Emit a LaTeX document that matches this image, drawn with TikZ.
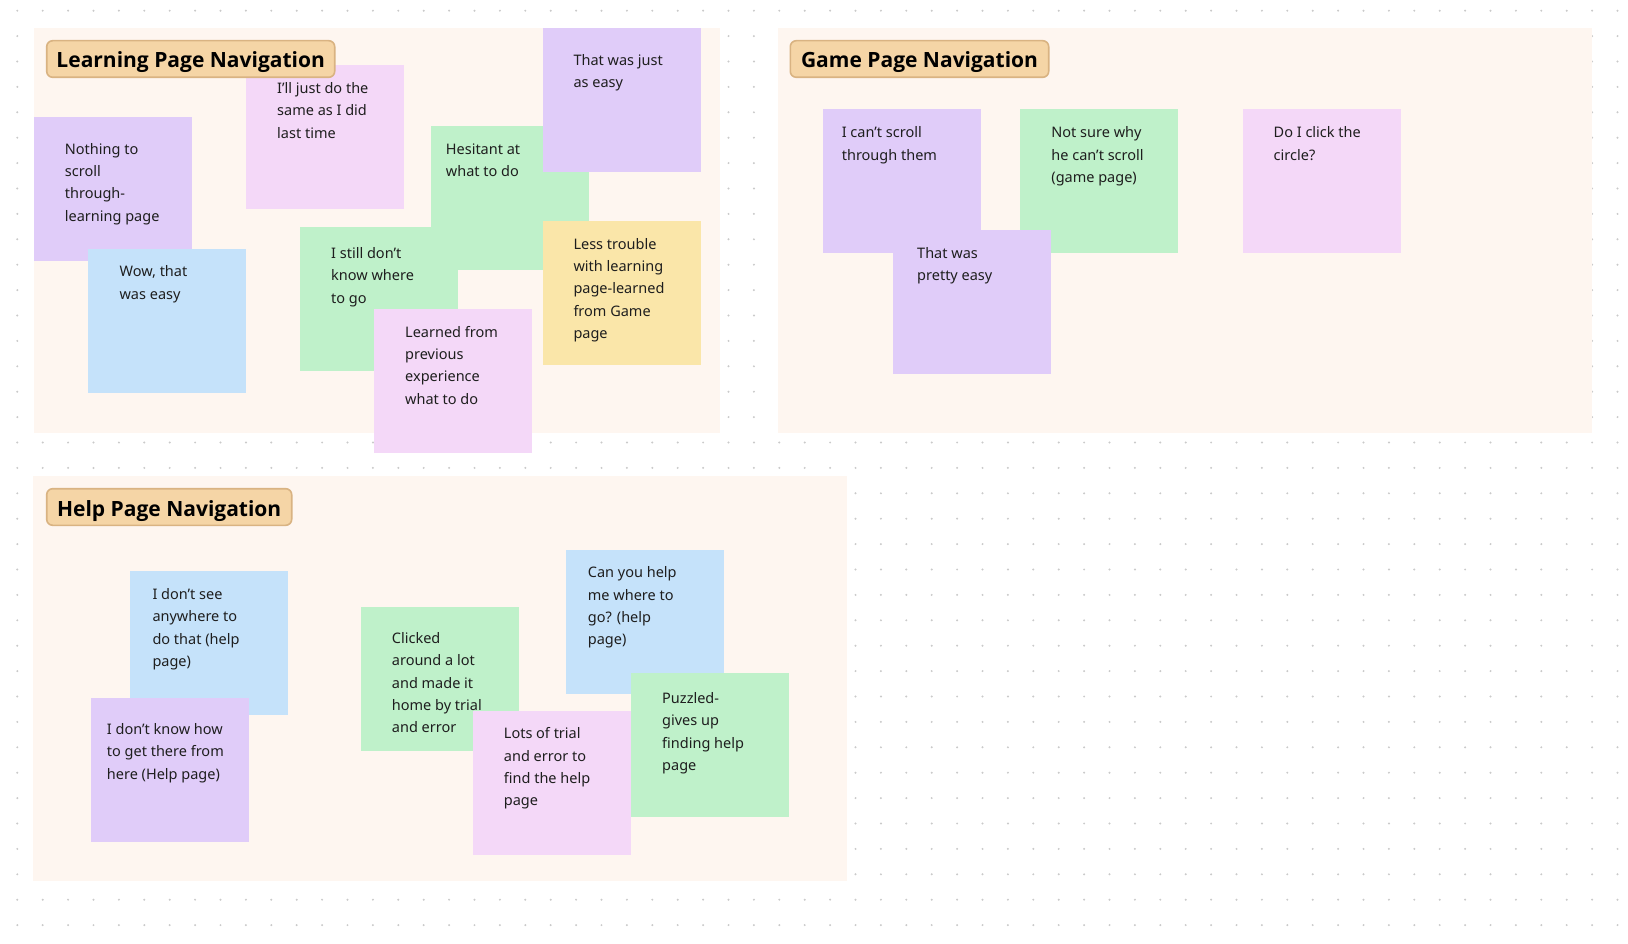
\documentclass[tikz,border=0pt]{standalone}
\usepackage{fontspec}
\setmainfont{Noto Sans}
\newfontfamily\titlefont{Open Sans}
\definecolor{framec}{HTML}{FEF6F0}
\definecolor{cpurple}{HTML}{E0CCF9}
\definecolor{cpink}{HTML}{F4D8F8}
\definecolor{cgreen}{HTML}{BFF1CA}
\definecolor{cblue}{HTML}{C5E2FA}
\definecolor{cyellow}{HTML}{FAE6A9}
\definecolor{badgefill}{HTML}{F5D5A6}
\definecolor{badgedraw}{HTML}{D9B382}
\definecolor{txtc}{HTML}{1E1E1E}
\definecolor{dotc}{HTML}{CACACA}
\tikzset{
  sticky/.style={draw=none, inner sep=0pt, minimum width=158pt, minimum height=144pt, anchor=north west},
  notetext/.style={inner sep=0pt, anchor=north west, align=left, text=txtc, font=\fontsize{14.5}{22.3}\selectfont, yshift=11pt},
  frame/.style={fill=framec, draw=none},
  badge/.style={fill=badgefill, draw=badgedraw, line width=1.6pt, rounded corners=6pt},
  badgetext/.style={inner sep=0pt, anchor=base, text=black, font=\titlefont\fontsize{21}{24}\selectfont\bfseries}
}
\begin{document}
\begin{tikzpicture}[x=1pt,y=-1pt]
\useasboundingbox (0,0) rectangle (1628,944);
\fill[white] (0,0) rectangle (1628,944);
% dot grid
\foreach \i in {0,...,63}{
  \foreach \j in {0,...,36}{
    \fill[dotc] ({17.3+25.4*\i},{10.7+25.4*\j}) circle (1.1);
  }
}
% frames
\path[frame] (34,28.3) rectangle (719.7,433.3);
\path[frame] (778,28) rectangle (1592,433.3);
\path[frame] (33.3,476) rectangle (847,881);

% ---------- Learning Page Navigation ----------
\node[sticky, fill=cgreen] (hesitant) at (430.7,126) {};
\node[notetext] (hesitant-t) at (445.7,154.3) {Hesitant at\\what to do};
\node[sticky, fill=cgreen] (still) at (300,227) {};
\node[notetext] (still-t) at (331,258.3) {I still don’t\\know where\\to go};
\node[sticky, fill=cpink] (learned) at (374,309) {};
\node[notetext] (learned-t) at (405,337) {Learned from\\previous\\experience\\what to do};
\node[sticky, fill=cpurple] (thatjust) at (542.3,28.3) {};
\node[notetext] (thatjust-t) at (573.3,65) {That was just\\as easy};
\node[sticky, fill=cyellow] (less) at (542.3,221) {};
\node[notetext] (less-t) at (573.3,249) {Less trouble\\with learning\\page-learned\\from Game\\page};
\node[sticky, fill=cpurple] (nothing) at (34,117) {};
\node[notetext] (nothing-t) at (64.7,154) {Nothing to\\scroll\\through-\\learning page};
\node[sticky, fill=cblue] (wow) at (88,249) {};
\node[notetext] (wow-t) at (119.4,276.5) {Wow, that\\was easy};
\node[sticky, fill=cpink] (just) at (246,65) {};
\node[notetext] (just-t) at (277,93.3) {I’ll just do the\\same as I did\\last time};
\draw[badge] (46.7,40.7) rectangle (334.7,77.3);
\node[badgetext] (learning-title) at (190.7,67.7) {Learning Page Navigation};

% ---------- Game Page Navigation ----------
\node[sticky, fill=cpurple] (cant) at (823,109.3) {};
\node[notetext] (cant-t) at (841.6,137.7) {I can’t scroll\\through them};
\node[sticky, fill=cgreen] (notsure) at (1020,109.3) {};
\node[notetext] (notsure-t) at (1051.2,137.7) {Not sure why\\he can’t scroll\\(game page)};
\node[sticky, fill=cpink] (click) at (1242.3,109.3) {};
\node[notetext] (click-t) at (1273.5,137.7) {Do I click the\\circle?};
\node[sticky, fill=cpurple] (pretty) at (893,230) {};
\node[notetext] (pretty-t) at (917,258.3) {That was\\pretty easy};
\draw[badge] (790.3,40.7) rectangle (1048.7,77.3);
\node[badgetext] (game-title) at (919.5,67.9) {Game Page Navigation};

% ---------- Help Page Navigation ----------
\node[sticky, fill=cblue] (see) at (130,571) {};
\node[notetext] (see-t) at (152.3,599.3) {I don’t see\\anywhere to\\do that (help\\page)};
\node[sticky, fill=cpurple] (know) at (91,698) {};
\node[notetext] (know-t) at (106.7,734.3) {I don’t know how\\to get there from\\here (Help page)};
\node[sticky, fill=cgreen] (clicked) at (361,606.7) {};
\node[notetext] (clicked-t) at (391.7,643.3) {Clicked\\around a lot\\and made it\\home by trial\\and error};
\node[sticky, fill=cblue] (canyou) at (566,549.3) {};
\node[notetext] (canyou-t) at (587.7,577.7) {Can you help\\me where to\\go? (help\\page)};
\node[sticky, fill=cpink] (lots) at (472.7,710.7) {};
\node[notetext] (lots-t) at (503.7,738.7) {Lots of trial\\and error to\\find the help\\page};
\node[sticky, fill=cgreen] (puzzled) at (631,672.3) {};
\node[notetext] (puzzled-t) at (662,703.3) {Puzzled-\\gives up\\finding help\\page};
\draw[badge] (46.7,488.7) rectangle (291.7,525.3);
\node[badgetext] (help-title) at (169.2,516.5) {Help Page Navigation};
\end{tikzpicture}
\end{document}
